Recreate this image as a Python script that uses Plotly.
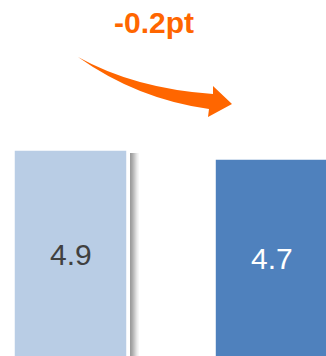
import plotly.graph_objects as go

categories = ["Before", "After"]
values = [4.9, 4.7]
bar_colors = ["#B9CDE5", "#4F81BD"]
label_colors = ["#404040", "#FFFFFF"]
delta_label = "-0.2pt"

W, H = 326, 356

def px(x, y):
    return x / W, 1 - y / H

fig = go.Figure()
fig.add_trace(go.Bar(
    x=categories, y=values,
    marker=dict(color=bar_colors, line=dict(color="white", width=1.5)),
    hoverinfo="skip",
))

annotations = []
for c, v, col in zip(categories, values, label_colors):
    annotations.append(dict(x=c, y=v / 2, xref="x", yref="y", yshift=6,
                            text=f"{v:.1f}", showarrow=False,
                            font=dict(family="Liberation Sans, Arial", size=30, color=col),
                            xanchor="center", yanchor="middle"))

shapes = []
# soft shadow to the right of the first bar
shadow = [(130, "#9C9C9C"), (131, "#A4A4A4"), (132, "#AEAEAE"), (133, "#BBBBBB"),
          (134, "#C8C8C8"), (135, "#D6D6D6"), (136, "#E3E3E3"), (137, "#EEEEEE"),
          (138, "#F6F6F6")]
for x0, c in shadow:
    a = px(x0, 153)
    b = px(x0 + 1, H)
    shapes.append(dict(type="rect", xref="paper", yref="paper",
                       x0=a[0], x1=b[0], y0=b[1], y1=a[1],
                       fillcolor=c, line=dict(width=0), layer="below"))

# curved arrow
pts = [(78, 57), (134.5, 88.5), (213, 94), (213, 86), (232, 104), (208, 117),
       (209, 109), (137, 99), (78, 57)]
p = [px(*q) for q in pts]
path = (f"M{p[0][0]},{p[0][1]} Q{p[1][0]},{p[1][1]} {p[2][0]},{p[2][1]} "
        f"L{p[3][0]},{p[3][1]} L{p[4][0]},{p[4][1]} L{p[5][0]},{p[5][1]} "
        f"L{p[6][0]},{p[6][1]} Q{p[7][0]},{p[7][1]} {p[8][0]},{p[8][1]} Z")
shapes.append(dict(type="path", xref="paper", yref="paper", path=path,
                   fillcolor="#FF6600", line=dict(width=0)))

annotations.append(dict(xref="paper", yref="paper", x=154 / W, y=1 - 22 / H,
                        text=f"<b>{delta_label}</b>", showarrow=False,
                        font=dict(family="Liberation Sans, Arial", size=30, color="#FF6600"),
                        xanchor="center", yanchor="middle"))

fig.update_layout(
    width=W, height=H,
    margin=dict(l=0, r=0, t=0, b=0),
    paper_bgcolor="white", plot_bgcolor="white",
    showlegend=False,
    bargap=0.438,
    xaxis=dict(range=[-0.3507, 1.271], visible=False, fixedrange=True),
    yaxis=dict(range=[0.322, 8.233], visible=False, fixedrange=True),
    shapes=shapes,
    annotations=annotations,
)

fig.write_html("out.html", config={"displayModeBar": False})
